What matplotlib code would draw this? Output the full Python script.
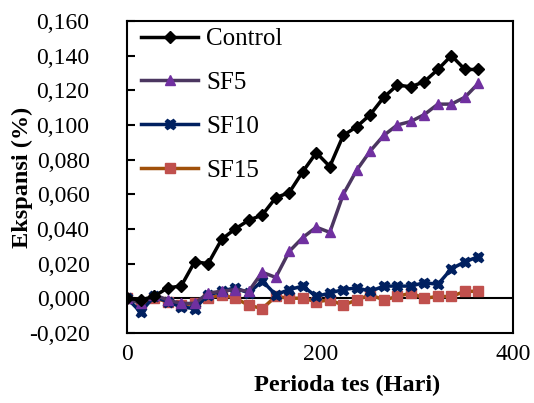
import matplotlib.pyplot as plt
from matplotlib.ticker import FuncFormatter

plt.rcParams.update({"font.family": ["Liberation Serif", "DejaVu Serif"], "font.size": 17})

days = [0, 14, 28, 42, 56, 70, 84, 98, 112, 126, 140, 154, 168, 182,
        196, 210, 224, 238, 252, 266, 280, 294, 308, 322, 336, 350, 364]

control = [0.000, -0.001, 0.001, 0.006, 0.007, 0.021, 0.020, 0.034, 0.040, 0.045,
           0.048, 0.058, 0.061, 0.073, 0.084, 0.076, 0.094, 0.099, 0.106, 0.116,
           0.123, 0.122, 0.125, 0.132, 0.140, 0.132, 0.132]
sf5 = [0.000, -0.003, 0.002, -0.001, -0.003, -0.003, 0.003, 0.004, 0.005, 0.004,
       0.015, 0.012, 0.027, 0.035, 0.041, 0.038, 0.060, 0.074, 0.085, 0.094,
       0.100, 0.102, 0.106, 0.112, 0.112, 0.116, 0.124]
sf10 = [0.000, -0.008, 0.001, -0.002, -0.005, -0.006, 0.002, 0.004, 0.006, 0.003,
        0.010, 0.002, 0.005, 0.007, 0.001, 0.003, 0.005, 0.006, 0.004, 0.007,
        0.007, 0.007, 0.009, 0.008, 0.017, 0.021, 0.024]
sf15 = [0.000, -0.003, 0.000, -0.002, -0.004, -0.003, 0.000, 0.002, 0.000, -0.004,
        -0.006, 0.001, 0.000, 0.000, -0.002, -0.001, -0.004, -0.001, 0.002, -0.001,
        0.001, 0.003, 0.000, 0.001, 0.001, 0.004, 0.004]

fig = plt.figure(figsize=(5.34, 4.03), dpi=100)
ax = fig.add_axes([0.238, 0.174, 0.723, 0.774])

ax.axhline(0, color="black", lw=1.5, zorder=1)

ax.plot(days, control, "-D", color="black", lw=2.5, ms=6.5, label="Control", zorder=5)
ax.plot(days, sf5, "-^", color="#4b3660", mfc="#7030a0", mec="#7030a0", lw=2.5, ms=7.5,
        label="SF5", zorder=4)
ax.plot(days, sf10, "-X", color="#002060", mfc="#002060", mec="#002060", lw=2.5, ms=7.5,
        label="SF10", zorder=3)
ax.plot(days, sf15, "-s", color="#a0500a", mfc="#c0504d", mec="#c0504d", lw=2.5, ms=6.5,
        label="SF15", zorder=2)

ax.set_xlim(0, 400)
ax.set_ylim(-0.02, 0.16)
ax.set_xticks([0, 200, 400])
ax.set_yticks([-0.02, 0.0, 0.02, 0.04, 0.06, 0.08, 0.10, 0.12, 0.14, 0.16])
ax.yaxis.set_major_formatter(FuncFormatter(lambda v, p: f"{v:.3f}".replace(".", ",")))
ax.tick_params(axis="y", direction="in", length=6, width=1.5, pad=27)
ax.tick_params(axis="x", length=0, pad=8)
for s in ax.spines.values():
    s.set_linewidth(1.5)

ax.set_xlabel("Perioda tes (Hari)", fontweight="bold", fontsize=17.5, labelpad=0)
ax.xaxis.set_label_coords(0.57, -0.135)
ax.set_ylabel("Ekspansi (%)", fontweight="bold", fontsize=17.5, labelpad=1)
ax.yaxis.set_label_coords(-0.245, 0.5)

ax.legend(loc="upper left", frameon=False, fontsize=18, handlelength=2.3,
          labelspacing=0.85, handletextpad=0.3, borderaxespad=0.0,
          bbox_to_anchor=(0.01, 1.01))

fig.savefig("out.png", dpi=100)
